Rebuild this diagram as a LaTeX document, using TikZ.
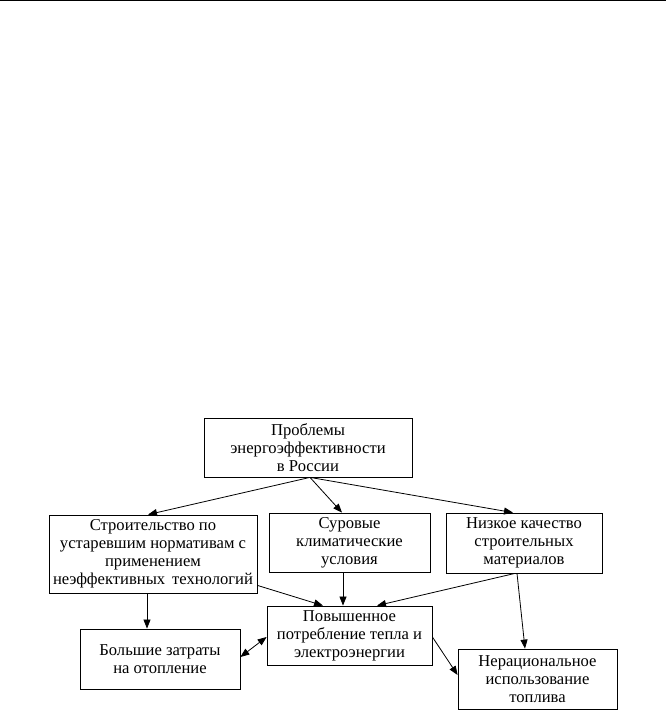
\documentclass[tikz,border=0pt]{standalone}
\usepackage{fontspec}
\setmainfont{Liberation Serif}
\usetikzlibrary{arrows.meta}
\begin{document}
\begin{tikzpicture}[x=1pt,y=1pt,
  box/.style={draw=black,line width=0.8pt,rectangle,align=center,inner sep=0pt,
    font=\fontsize{16.6}{18}\selectfont},
  conn/.style={line width=0.8pt,-{Triangle[length=9pt,width=7pt]}},
  dconn/.style={line width=0.8pt,{Triangle[length=9pt,width=7pt]}-{Triangle[length=9pt,width=7pt]}}]
\useasboundingbox (0,0) rectangle (666,728);
\coordinate (tl) at (0,727.4);
\coordinate (tr) at (666,727.4);
\draw[line width=1.3pt] (tl) -- (tr);
% nodes (y = 728 - pixel y)
\node[box,minimum width=208pt,minimum height=59pt] (top) at (308,280.5) {Проблемы\\энергоэффективности\\в России};
\node[box,minimum width=208pt,minimum height=78pt] (A) at (153,174) {Строительство по\\устаревшим нормативам с\\применением\\неэффективных\, технологий};
\node[box,minimum width=161pt,minimum height=59pt] (B) at (349.5,185.5) {Суровые\\климатические\\условия};
\node[box,minimum width=156pt,minimum height=60pt] (C) at (524,185) {Низкое качество\\строительных\\материалов};
\node[box,minimum width=165pt,minimum height=59pt] (D) at (349.5,92.5) {Повышенное\\потребление тепла и\\электроэнергии};
\node[box,minimum width=160pt,minimum height=60pt] (E) at (160,69) {Большие затраты\\на отопление};
\node[box,minimum width=159pt,minimum height=60pt] (F) at (537.5,49) {Нерациональное\\использование\\топлива};
% connectors
\draw[conn] ([xshift=2pt]top.south) -- ([xshift=-5pt]A.north);
\draw[conn] ([xshift=2pt]top.south) -- ([xshift=-7.5pt]B.north);
\draw[conn] ([xshift=2pt]top.south) -- ([xshift=-11pt]C.north);
\draw[conn] ([yshift=8pt]A.south east) -- ([xshift=-26.5pt]D.north);
\draw[conn] ([xshift=-6.5pt]B.south) -- ([xshift=-6.5pt]D.north);
\draw[conn] ([xshift=-9pt]C.south) -- ([xshift=27.5pt]D.north);
\draw[conn] ([xshift=-7pt]C.south) -- ([xshift=-12.5pt]F.north);
\draw[conn] ([xshift=-6pt]A.south) -- ([xshift=-13pt]E.north);
\draw[dconn] ([yshift=-1.5pt]D.west) -- ([yshift=2pt]E.east);
\draw[conn] ([yshift=-1.5pt]D.east) -- ([yshift=4pt]F.west);
\end{tikzpicture}
\end{document}
